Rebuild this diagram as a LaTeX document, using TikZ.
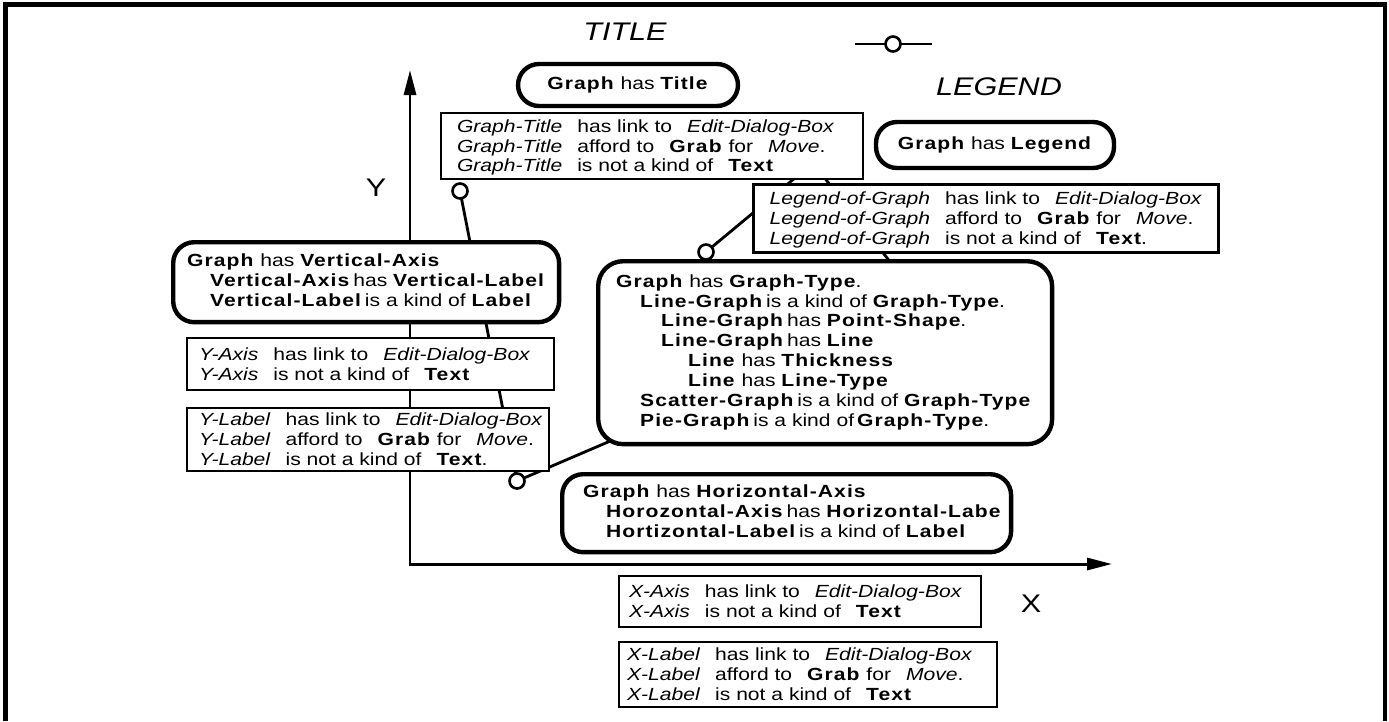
\documentclass[tikz,border=0pt]{standalone}
\usepackage{fontspec}
\setmainfont{Liberation Sans}[FakeStretch=1.2, BoldFeatures={LetterSpace=6}]
\usetikzlibrary{arrows.meta}
\newcommand{\boxlines}[1]{\begin{tabular}{@{}l@{}}#1\end{tabular}}
\newcommand{\factlines}[1]{\raisebox{-1.2pt}[\height][\depth]{\boxlines{#1}}}
\newcommand{\segsep}{\hspace{0.3cm}}

\begin{document}
\begin{tikzpicture}[x=0.02cm, y=-0.02cm,
  every node/.style={font=\fontsize{10}{11.3}\selectfont},
  factbox/.style={draw, fill=white, line width=1.2pt, align=left, inner ysep=0pt},
  rulebox/.style={draw, fill=white, line width=2.5pt, rounded corners=0.42cm, align=left, inner ysep=0pt},
  marker/.style={circle, draw, fill=white, line width=1.5pt, inner sep=0pt, minimum size=0.3cm},
  graphline/.style={line width=1.6pt},
  axis/.style={line width=1.7pt, -{Triangle[length=0.5cm, width=0.24cm]}},
  bigtext/.style={font=\fontsize{14.5}{17}\selectfont}]
  \useasboundingbox (0,0) rectangle (1389,721);
  \draw[line width=2.6pt] (5.5,721) -- (5.5,4.5) -- (1385,4.5) -- (1385,721);

  \coordinate (origin) at (410,564);
  \coordinate (ytip) at (410,70);
  \coordinate (xtip) at (1112,564);
  \draw[axis] (origin) -- (ytip);
  \draw[axis] ([xshift=-0.85pt]origin) -- (xtip);

  \coordinate (ptA) at (460,191);
  \coordinate (ptB) at (517,481);
  \coordinate (ptD) at (650,424);
  \coordinate (ptC) at (706,252);
  \coordinate (ptE) at (813,163);
  \coordinate (ptF) at (930,313);
  \draw[graphline] (ptA) -- (ptB) -- (ptD) -- (ptC) -- (ptE) -- (ptF);

  \coordinate (legl) at (855,44);
  \coordinate (legr) at (932,44);
  \draw[graphline] (legl) -- (legr);

  \node[bigtext] (titletext) at (625,32) {\itshape TITLE};
  \node[bigtext] (legendtext) at (999,87) {\itshape LEGEND};
  \node[bigtext] (ylabel) at (376,188) {Y};
  \node[bigtext] (xlabel) at (1031,604) {X};

  \node[rulebox, align=center, minimum width=4.4cm, minimum height=0.84cm] (titlerule) at (628,85) {\textbf{Graph} has \textbf{Title}};
  \node[factbox, anchor=north west, inner xsep=0.32cm, text width=7.8cm, minimum height=1.32cm] (titlefacts) at (440,112)
    {\factlines{\textit{Graph-Title}\segsep has link to\segsep\textit{Edit-Dialog-Box}\\
     \textit{Graph-Title}\segsep afford to\segsep\textbf{Grab} for\segsep\textit{Move}.\\
     \textit{Graph-Title}\segsep is not a kind of\segsep\textbf{Text}}};
  \node[rulebox, align=center, minimum width=4.76cm, minimum height=0.92cm] (legendrule) at (995,145) {\textbf{Graph} has \textbf{Legend}};
  \node[factbox, line width=1.8pt, anchor=north west, inner xsep=0.32cm, text width=8.66cm, minimum height=1.36cm] (legendfacts) at (752,183)
    {\factlines{\textit{Legend-of-Graph}\segsep has link to\segsep\textit{Edit-Dialog-Box}\\
     \textit{Legend-of-Graph}\segsep afford to\segsep\textbf{Grab} for\segsep\textit{Move}.\\
     \textit{Legend-of-Graph}\segsep is not a kind of\segsep\textbf{Text}.}};

  \node[rulebox, anchor=north west, inner xsep=0.28cm, text width=7.16cm, minimum height=1.6cm] (vertrule) at (171,240)
    {\boxlines{\textbf{Graph} has \textbf{Vertical-Axis}\\
     \hspace*{0.46cm}\textbf{Vertical-Axis}\,has \textbf{Vertical-Label}\\
     \hspace*{0.46cm}\textbf{Vertical-Label}\,is a kind of \textbf{Label}}};
  \node[factbox, anchor=north west, inner xsep=0.24cm, text width=6.86cm, minimum height=1.04cm] (yaxisfacts) at (186,337)
    {\factlines{\textit{Y-Axis}\segsep has link to\segsep\textit{Edit-Dialog-Box}\\
     \textit{Y-Axis}\segsep is not a kind of\segsep\textbf{Text}}};
  \node[factbox, anchor=north west, inner xsep=0.24cm, text width=6.76cm, minimum height=1.26cm] (ylabelfacts) at (186,407)
    {\factlines{\textit{Y-Label}\segsep has link to\segsep\textit{Edit-Dialog-Box}\\
     \textit{Y-Label}\segsep afford to\segsep\textbf{Grab} for\segsep\textit{Move}.\\
     \textit{Y-Label}\segsep is not a kind of\segsep\textbf{Text}.}};

  \node[rulebox, rounded corners=0.5cm, anchor=north west, inner xsep=0.36cm, text width=8.36cm, minimum height=3.66cm] (typerule) at (596,259)
    {\boxlines{\textbf{Graph} has \textbf{Graph-Type}.\\
     \hspace*{0.48cm}\textbf{Line-Graph}\,is a kind of \textbf{Graph-Type}.\\
     \hspace*{0.9cm}\textbf{Line-Graph}\,has \textbf{Point-Shape}.\\
     \hspace*{0.9cm}\textbf{Line-Graph}\,has \textbf{Line}\\
     \hspace*{1.44cm}\textbf{Line} has \textbf{Thickness}\\
     \hspace*{1.44cm}\textbf{Line} has \textbf{Line-Type}\\
     \hspace*{0.48cm}\textbf{Scatter-Graph}\,is a kind of \textbf{Graph-Type}\\
     \hspace*{0.48cm}\textbf{Pie-Graph}\,is a kind of\,\textbf{Graph-Type}.}};

  \node[rulebox, anchor=north west, inner xsep=0.42cm, text width=8.14cm, minimum height=1.56cm] (horizrule) at (560,472)
    {\boxlines{\textbf{Graph} has \textbf{Horizontal-Axis}\\
     \hspace*{0.46cm}\textbf{Horozontal-Axis}\,has \textbf{Horizontal-Labe}\\
     \hspace*{0.46cm}\textbf{Hortizontal-Label}\,is a kind of \textbf{Label}}};
  \node[factbox, anchor=north west, inner xsep=0.2cm, text width=6.84cm, minimum height=1.02cm] (xaxisfacts) at (618,575)
    {\factlines{\textit{X-Axis}\segsep has link to\segsep\textit{Edit-Dialog-Box}\\
     \textit{X-Axis}\segsep is not a kind of\segsep\textbf{Text}}};
  \node[factbox, anchor=north west, inner xsep=0.16cm, text width=7.24cm, minimum height=1.3cm] (xlabelfacts) at (618,641)
    {\factlines{\textit{X-Label}\segsep has link to\segsep\textit{Edit-Dialog-Box}\\
     \textit{X-Label}\segsep afford to\segsep\textbf{Grab} for\segsep\textit{Move}.\\
     \textit{X-Label}\segsep is not a kind of\segsep\textbf{Text}}};

  \node[marker] (markA) at (ptA) {};
  \node[marker] (markB) at (ptB) {};
  \node[marker] (markC) at (ptC) {};
  \node[marker] (legmark) at (893,44) {};
\end{tikzpicture}
\end{document}
